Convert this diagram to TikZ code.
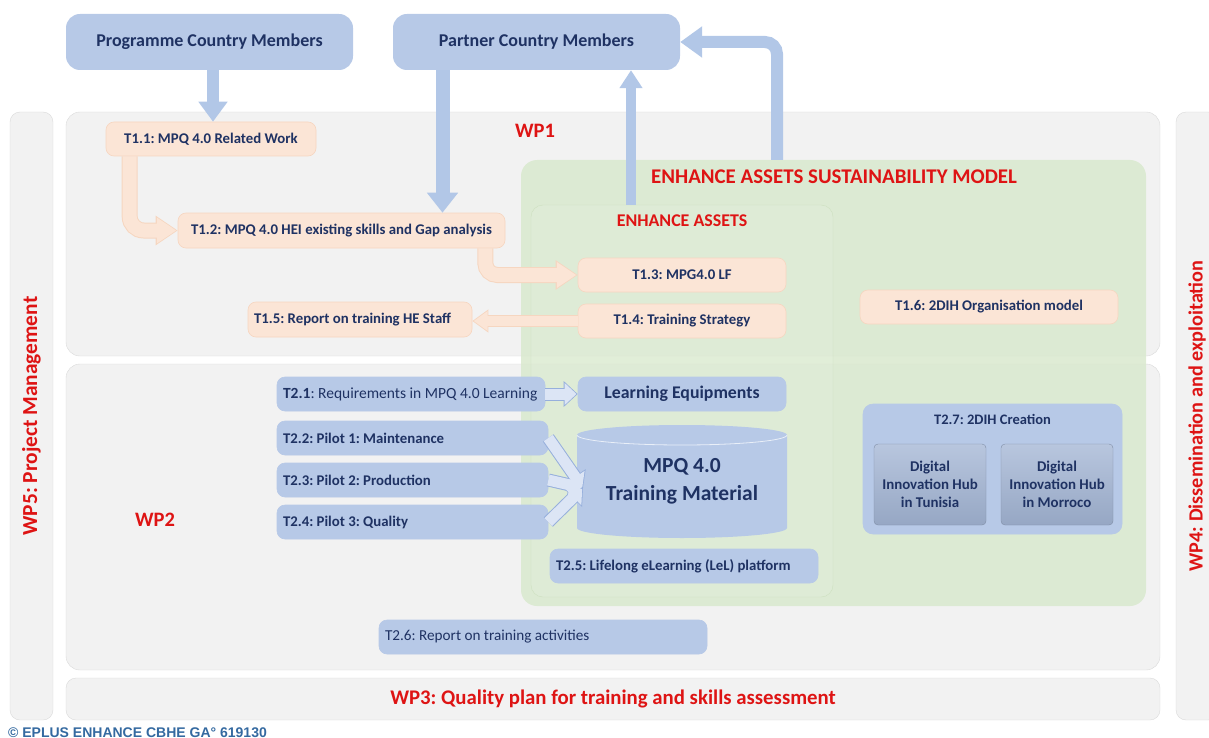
\documentclass[tikz,border=0pt]{standalone}
\usepackage{fontspec}
\setmainfont{Carlito}
\newfontfamily\footfont{Liberation Sans}
\usetikzlibrary{arrows.meta}
\frenchspacing

\definecolor{boxblue}{RGB}{183,201,231}
\definecolor{navy}{RGB}{31,50,99}
\definecolor{peach}{RGB}{251,229,214}
\definecolor{peachedge}{RGB}{246,214,192}
\definecolor{wpgray}{RGB}{242,242,242}
\definecolor{wpedge}{RGB}{218,218,218}
\definecolor{greenbg}{RGB}{217,233,206}
\definecolor{greenedge}{RGB}{205,224,192}
\definecolor{wpred}{RGB}{222,20,20}
\definecolor{arrowblue}{RGB}{178,199,231}
\definecolor{hollowfill}{RGB}{220,229,245}
\definecolor{hollowedge}{RGB}{150,175,220}
\definecolor{hubtop}{RGB}{184,198,222}
\definecolor{hubbottom}{RGB}{150,167,196}
\definecolor{hubedge}{RGB}{128,142,166}
\definecolor{footblue}{RGB}{52,105,160}

\tikzset{
	wpframe/.style={draw=wpedge, fill=wpgray, rounded corners=14pt, inner sep=0pt},
	wplabel/.style={text=wpred, font=\bfseries\fontsize{20.5}{22}\selectfont},
	member/.style={fill=boxblue, rounded corners=14pt, text=navy,
		minimum width=287pt, minimum height=56pt,
		font=\bfseries\fontsize{18}{20}\selectfont},
	task/.style={rounded corners=8pt, minimum height=34pt, inner xsep=6pt, inner ysep=0pt,
		text=navy, font=\bfseries\fontsize{14.8}{16}\selectfont},
	orangetask/.style={task, fill=peach, draw=peachedge, line width=0.6pt},
	bluetask/.style={task, fill=boxblue, draw=boxblue, line width=0.6pt},
	hub/.style={rounded corners=4pt, draw=hubedge, top color=hubtop, bottom color=hubbottom,
		minimum width=112pt, minimum height=81pt, align=center, text=navy,
		font=\bfseries\fontsize{14.9}{18}\selectfont},
	bigarrow/.style={arrowblue, line width=12pt, -{Triangle[width=28pt,length=20pt]}},
	orangeedge/.style={peachedge, line width=16pt, -{Triangle[width=28pt,length=22pt]}},
	orangefill/.style={peach, line width=14pt, -{Triangle[width=24.5pt,length=19.5pt]}, shorten >=1.4pt},
	hollowedgearrow/.style={hollowedge, line width=13pt, -{Triangle[width=25pt,length=14pt]}},
	hollowfillarrow/.style={hollowfill, line width=11pt, -{Triangle[width=21.5pt,length=12pt]}, shorten >=1.2pt}
}

\begin{document}
\begin{tikzpicture}[x=1pt, y=-1pt]

	\useasboundingbox (0,0) rectangle (1209,738);

	% work package frames
	\node[wpframe, rotate=90, minimum width=608pt, minimum height=43pt, rounded corners=10pt] (wp5) at (31.5,416)
		{\textcolor{wpred}{\bfseries\fontsize{21.4}{23}\selectfont WP5: Project Management}};
	\node[wpframe, rotate=90, minimum width=608pt, minimum height=42pt, rounded corners=10pt] (wp4) at (1197,416)
		{\textcolor{wpred}{\bfseries\fontsize{20.2}{22}\selectfont WP4: Dissemination and exploitation}};
	\node[wpframe, minimum width=1094pt, minimum height=244pt] (wp1) at (613,234) {};
	\node[wpframe, minimum width=1094pt, minimum height=306pt] (wp2) at (613,517) {};
	\node[wpframe, minimum width=1094pt, minimum height=42pt, rounded corners=10pt] (wp3) at (613,699)
		{\textcolor{wpred}{\bfseries\fontsize{20.8}{22}\selectfont WP3: Quality plan for training and skills assessment}};

	\node[wplabel] (wp1label) at (535,131) {WP1};
	\node[wplabel] (wp2label) at (155,520) {WP2};

	% sustainability model
	\node[fill=greenbg, fill opacity=0.85, rounded corners=16pt, minimum width=625pt, minimum height=446pt] (eas) at (833.5,383) {};
	\node[wplabel, font=\bfseries\fontsize{20.9}{22}\selectfont] (easlabel) at (834,177) {ENHANCE ASSETS SUSTAINABILITY MODEL};
	\node[draw=greenedge, fill=white, fill opacity=0.08, rounded corners=12pt, minimum width=302pt, minimum height=392pt] (ea) at (682,401) {};
	\node[wplabel, font=\bfseries\fontsize{17.9}{19}\selectfont] (ealabel) at (682,221) {ENHANCE ASSETS};

	% members
	\node[member] (pcm) at (209.5,42) {Programme Country Members};
	\node[member] (pcm2) at (536.5,42) {Partner Country Members};

	% WP1 tasks
	\node[orangetask, minimum width=210pt] (t11) at (211,139) {T1.1: MPQ 4.0 Related Work};
	\node[orangetask, minimum width=327pt, minimum height=35pt] (t12) at (341.5,230.5) {T1.2: MPQ 4.0 HEI existing skills and Gap analysis};
	\node[orangetask, minimum width=208pt] (t13) at (682,275) {T1.3: MPG4.0 LF};
	\node[orangetask, minimum width=208pt] (t14) at (682,321) {T1.4: Training Strategy};
	\node[orangetask, text width=212pt, align=flush left, minimum height=35pt] (t15) at (360,319.5) {T1.5: Report on training HE Staff};
	\node[orangetask, minimum width=258pt] (t16) at (989,307) {T1.6: 2DIH Organisation model};

	% WP2 tasks
	\node[bluetask, text width=256pt, align=flush left, font=\fontsize{15.5}{17}\selectfont] (t21) at (411,394)
		{\textbf{T2.1}: Requirements in MPQ 4.0 Learning};
	\node[bluetask, minimum width=208pt, font=\bfseries\fontsize{17.8}{19}\selectfont] (le) at (682,394) {Learning Equipments};
	\node[bluetask, text width=259pt, align=flush left] (t22) at (412.5,438) {T2.2: Pilot 1: Maintenance};
	\node[bluetask, text width=259pt, align=flush left] (t23) at (412.5,480) {T2.3: Pilot 2: Production};
	\node[bluetask, text width=259pt, align=flush left] (t24) at (412.5,522) {T2.4: Pilot 3: Quality};
	\node[bluetask, text width=256pt, align=flush left] (t25) at (684,566) {T2.5: Lifelong eLearning (LeL) platform};
	\node[bluetask, text width=316pt, align=flush left, font=\fontsize{15.2}{17}\selectfont] (t26) at (543,637) {T2.6: Report on training activities};

	% 2DIH creation
	\node[bluetask, minimum width=259pt, minimum height=130pt, rounded corners=10pt] (t27) at (992.5,469) {};
	\node[text=navy, font=\bfseries\fontsize{14.5}{16}\selectfont] (t27label) at (992.5,419) {T2.7: 2DIH Creation};
	\node[hub] (hub1) at (930,484.5) {Digital\\Innovation Hub\\in Tunisia};
	\node[hub] (hub2) at (1057,484.5) {Digital\\Innovation Hub\\in Morroco};

	% training material cylinder
	\fill[boxblue] (577,435) -- (577,528) arc[start angle=180, end angle=360, x radius=105pt, y radius=10pt]
		-- (787,435) arc[start angle=0, end angle=180, x radius=105pt, y radius=10pt] -- cycle;
	\draw[white!70!boxblue, line width=0.8pt] (577,435) arc[start angle=180, end angle=360, x radius=105pt, y radius=10pt];
	\node[align=center, text=navy, font=\bfseries\fontsize{21.5}{28}\selectfont] (mpq) at (682,481) {MPQ 4.0\\Training Material};
	\coordinate (mpqin) at (583,488);

	% member arrows
	\draw[bigarrow] (pcm.south -| t11.north) ++(2,0) coordinate (a1) -- (a1 |- t11.north);
	\draw[bigarrow, line width=14pt, -{Triangle[width=30pt,length=20pt]}] ([xshift=-94pt]pcm2.south) -- ([xshift=-94pt]pcm2.south |- t12.north);
	\draw[bigarrow, line width=10pt, -{Triangle[width=22pt,length=18pt]}] ([xshift=-51pt]ea.north) -- ([xshift=-51pt]ea.north |- pcm2.south);
	\draw[bigarrow, rounded corners=12pt, -{Triangle[width=30pt,length=22pt]}] ([xshift=-56.5pt]eas.north) |- (pcm2.east);

	% WP1 flow
	\draw[orangeedge, rounded corners=14pt] ([xshift=24pt]t11.south west) |- (t12.west);
	\draw[orangefill, rounded corners=14pt] ([xshift=24pt]t11.south west) |- (t12.west);
	\draw[orangeedge, rounded corners=12pt] ([xshift=-20pt]t12.south east) |- (t13.west);
	\draw[orangefill, rounded corners=12pt] ([xshift=-20pt]t12.south east) |- (t13.west);
	\draw[orangeedge, line width=12pt, -{Triangle[width=22pt,length=16pt]}] (t14.west) -- (t14.west -| t15.east);
	\draw[orangefill, line width=10pt, -{Triangle[width=19pt,length=14pt]}] (t14.west) -- (t14.west -| t15.east);

	% WP2 flow
	\draw[hollowedgearrow] (t21.east) -- (le.west);
	\draw[hollowfillarrow] (t21.east) -- (le.west);
	\foreach \t in {t22,t23,t24}
	{
		\draw[hollowedgearrow] (\t.east) -- (mpqin);
	};
	\foreach \t in {t22,t23,t24}
	{
		\draw[hollowfillarrow] (\t.east) -- (mpqin);
	};

	\node[anchor=base west, inner sep=0pt, text=footblue, font=\footfont\bfseries\fontsize{14}{16}\selectfont] (foot) at (8,737) {© EPLUS ENHANCE CBHE GA° 619130};

\end{tikzpicture}
\end{document}
